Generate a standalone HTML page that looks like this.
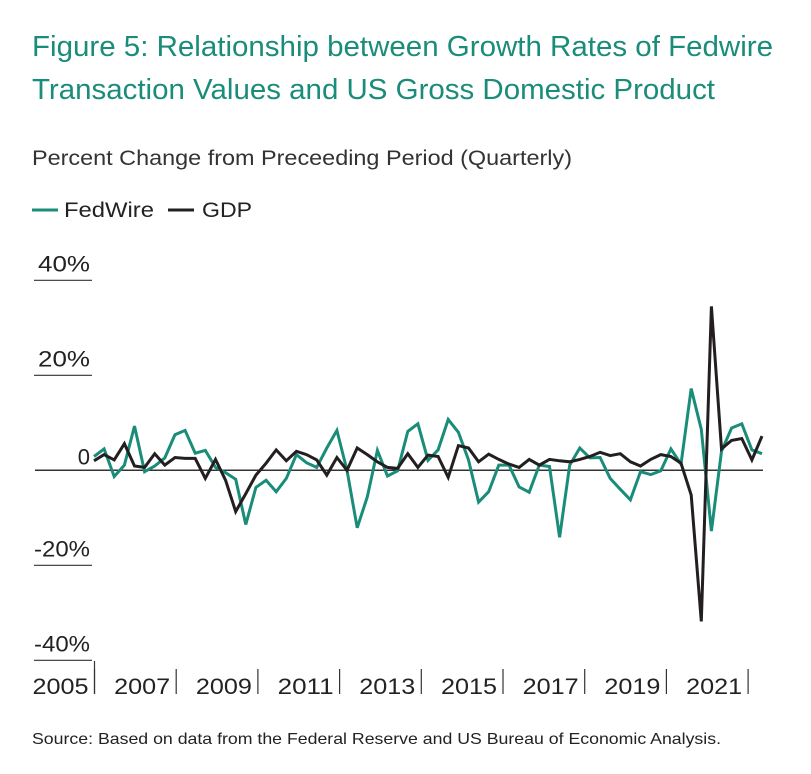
<!DOCTYPE html>
<html><head><meta charset="utf-8">
<style>
body{margin:0;background:#fff;width:811px;height:774px;overflow:hidden;font-family:"Liberation Sans",sans-serif;}
svg{display:block}
</style></head>
<body>
<svg width="811" height="774" xmlns="http://www.w3.org/2000/svg">
<text x="32" y="56" font-size="29" fill="#1a8c7a" textLength="741" lengthAdjust="spacingAndGlyphs">Figure 5: Relationship between Growth Rates of Fedwire</text>
<text x="32" y="99" font-size="29" fill="#1a8c7a" textLength="683" lengthAdjust="spacingAndGlyphs">Transaction Values and US Gross Domestic Product</text>
<text x="32" y="165" font-size="21" fill="#333" textLength="540" lengthAdjust="spacingAndGlyphs">Percent Change from Preceeding Period (Quarterly)</text>
<g><line x1="32" y1="210" x2="58" y2="210" stroke="#1a8c7a" stroke-width="3"/><text x="64" y="217" font-size="21" fill="#222" textLength="90" lengthAdjust="spacingAndGlyphs">FedWire</text></g>
<g><line x1="168" y1="210" x2="194" y2="210" stroke="#222" stroke-width="3"/><text x="202" y="217" font-size="21" fill="#222" textLength="50" lengthAdjust="spacingAndGlyphs">GDP</text></g>
<g id="axes"></g>
<g id="series"></g>
<text x="32" y="744" font-size="16" fill="#222" textLength="689" lengthAdjust="spacingAndGlyphs">Source: Based on data from the Federal Reserve and US Bureau of Economic Analysis.</text>
</svg>
<script>
const yTicks=[40,20,0,-20,-40];
const yTickLabels=["40%","20%","0","-20%","-40%"];
const years=[2005,2007,2009,2011,2013,2015,2017,2019,2021];
const fedwire=[2.9,4.5,-1.3,1.1,9.3,-0.3,0.9,2.6,7.5,8.4,3.6,4.2,0.6,-0.5,-1.9,-11.4,-3.6,-2.1,-4.5,-1.7,3.3,
1.6,0.6,4.7,8.4,0,-12.1,-5.6,4.2,-1.2,-0.1,8.2,9.8,2.1,4.3,10.7,8.0,2.2,-6.7,-4.5,1.1,1.1,-3.5,-4.6,1.1,0.8,-14.1,
1.1,4.7,2.6,2.7,-1.7,-4.0,-6.2,-0.3,-0.9,-0.1,4.5,1.3,17.2,8.6,-12.8,4.0,8.9,9.8,4.3,3.5];
const gdp=[2.0,3.3,2.2,5.6,0.9,0.6,3.5,1.1,2.7,2.5,2.5,-1.7,2.3,-2.1,-8.7,-4.9,-1.0,1.5,4.3,2.0,4.0,
3.3,2.2,-1.0,2.7,0,4.7,3.3,1.8,0.6,0.4,3.5,0.6,3.2,2.9,-1.5,5.2,4.7,1.8,3.4,2.3,1.3,0.6,2.3,1.1,2.3,2.0,
1.8,2.3,2.9,3.8,3.1,3.5,1.8,0.9,2.3,3.3,2.9,1.5,-5.2,-31.8,34.5,4.5,6.3,6.7,2.2,7.2];
const NS="http://www.w3.org/2000/svg";
const n=fedwire.length;
function xScale(i){return 94+i*(762-94)/(n-1);}
function yScale(v){return 470.3-v*4.75;}
function yearX(y){return 94.5+(y-2005)*40.85;}
function mk(tag,attrs,parent){const e=document.createElementNS(NS,tag);for(const k in attrs)e.setAttribute(k,attrs[k]);parent.appendChild(e);return e;}
const axes=document.getElementById('axes'),series=document.getElementById('series');
yTicks.forEach((v,k)=>{
  const y=yScale(v);
  if(v===0){
    const l=mk('line',{x1:35,x2:763,y1:y,y2:y,stroke:'#333','stroke-width':1.5},axes);
    
    
    const t=mk('text',{x:90,y:y-6,'font-size':22,fill:'#222','text-anchor':'end'},axes);
    t.textContent=yTickLabels[k];
    
    
  } else {
    const l=mk('line',{x1:34,x2:92,y1:y,y2:y,stroke:'#333','stroke-width':1.2},axes);
    
    
    const neg=v<0;
    const t=mk('text',{x:neg?34:38,y:y-9,'font-size':22,fill:'#222',textLength:neg?56:52,lengthAdjust:'spacingAndGlyphs'},axes);
    t.textContent=yTickLabels[k];
    
    
  }
});
const c=mk('line',{x1:94.5,x2:94.5,y1:661,y2:694,stroke:'#333','stroke-width':1.2},axes);


years.forEach(yr=>{
  const x=yearX(yr);
  const t=mk('text',{x:x-62,y:694,'font-size':22,fill:'#222',textLength:56,lengthAdjust:'spacingAndGlyphs'},axes);
  t.textContent=yr;
  
  
  const l=mk('line',{x1:x,x2:x,y1:669,y2:694,stroke:'#333','stroke-width':1.2},axes);
  
  
});
function line(arr,color,name){
  const d=arr.map((v,i)=>(i?'L':'M')+xScale(i).toFixed(1)+' '+yScale(v).toFixed(1)).join(' ');
  const p=mk('path',{d:d,fill:'none',stroke:color,'stroke-width':3,'stroke-linejoin':'miter'},series);
  
  
}
line(fedwire,'#1a8c7a','fedwire-line');
line(gdp,'#231f20','gdp-line');
</script>
</body></html>
